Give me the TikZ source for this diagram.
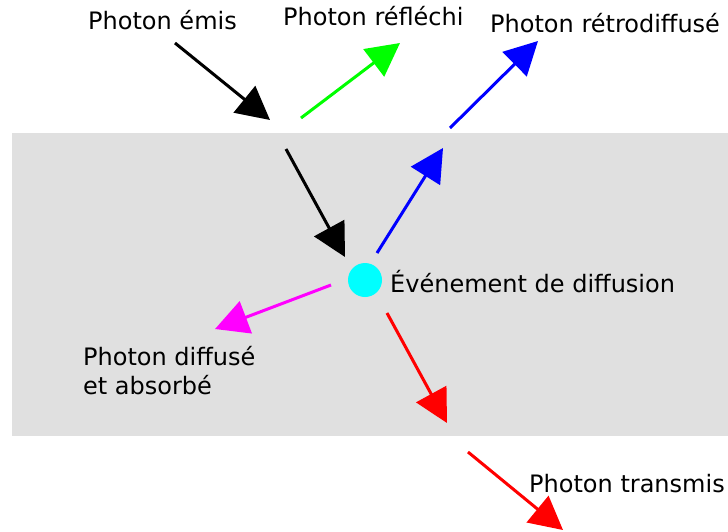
\documentclass[tikz,border=0pt]{standalone}
\usepackage{fontspec}
\setmainfont{DejaVu Sans}
\usetikzlibrary{arrows.meta}
\definecolor{bggray}{RGB}{224,224,224}
\definecolor{pgreen}{RGB}{0,255,0}
\definecolor{pblue}{RGB}{0,0,255}
\definecolor{pmag}{RGB}{255,0,255}
\definecolor{pred}{RGB}{255,0,0}
\definecolor{pcyan}{RGB}{0,255,255}
\tikzset{
  ray/.style={line width=3pt,-{Triangle[length=33pt,width=34pt]}},
  lbl/.style={inner sep=0pt,anchor=base west,font=\fontsize{24}{29}\selectfont}
}
\begin{document}
\begin{tikzpicture}[x=1pt,y=-1pt]
\useasboundingbox (0,0) rectangle (728,531);
\fill[bggray] (12,133) rectangle (728,436);
% labels
\node[lbl] (emis) at (88,29) {Photon émis};
\node[lbl] (refl) at (283,25) {Photon réfléchi};
\node[lbl] (retro) at (490,32) {Photon rétrodiffusé};
\node[lbl] (event) at (390,292) {Événement de diffusion};
\node[lbl] (absA) at (83,365) {Photon diffusé};
\node[lbl] (absB) at (83,394) {et absorbé};
\node[lbl] (trans) at (529,492) {Photon transmis};
% scattering event
\node[circle,fill=pcyan,minimum size=34pt,inner sep=0pt] (ev) at (365,280) {};
% coordinates
\coordinate (a1) at (175,43);  \coordinate (a2) at (270,120);
\coordinate (b1) at (286,149); \coordinate (b2) at (345,257);
\coordinate (g1) at (301,118); \coordinate (g2) at (400,43);
\coordinate (c1) at (377,253); \coordinate (c2) at (443,148);
\coordinate (d1) at (450,128); \coordinate (d2) at (538,41);
\coordinate (m1) at (331,285); \coordinate (m2) at (215,329);
\coordinate (r1) at (387,313); \coordinate (r2) at (447,423);
\coordinate (s1) at (468,452); \coordinate (s2) at (563,530);
% rays
\draw[ray,black] (a1) -- (a2);
\draw[ray,black] (b1) -- (b2);
\draw[ray,pgreen] (g1) -- (g2);
\draw[ray,pblue] (c1) -- (c2);
\draw[ray,pblue] (d1) -- (d2);
\draw[ray,pmag] (m1) -- (m2);
\draw[ray,pred] (r1) -- (r2);
\draw[ray,pred] (s1) -- (s2);
\end{tikzpicture}
\end{document}
